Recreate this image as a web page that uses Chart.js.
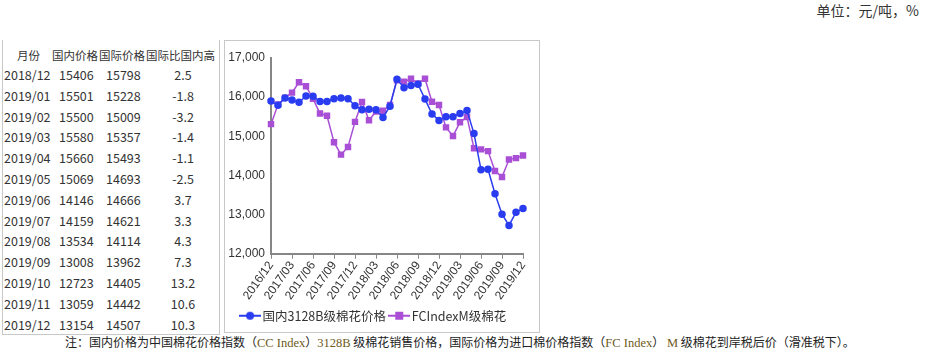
<!DOCTYPE html>
<html>
<head>
<meta charset="utf-8">
<script src="https://cdn.jsdelivr.net/npm/chart.js@4/dist/chart.umd.min.js"></script>
<style>
  body { margin: 0; width: 925px; height: 351px; background: #fff; position: relative; overflow: hidden;
         font-family: "Noto Sans CJK SC", "Open Sans", sans-serif; color: #333; }
  #unit { position: absolute; right: 6px; top: 0px; font-size: 14px; }
  #tbl { position: absolute; left: 2px; top: 40px; width: 216px; height: 294px; border: 1px solid #c8c8c8; border-top: none; }
  .cell { position: absolute; font-size: 12.5px; line-height: 16px; white-space: nowrap; }
  .head { font-size: 11.5px; }
  #box { position: absolute; left: 224px; top: 40px; width: 314px; height: 291px; border: 1px solid #c8c8c8; }
  #note { position: absolute; left: 65px; top: 333px; font-size: 12px; color: #222; white-space: nowrap; }
  #note .en { font-family: "Liberation Serif", serif; color: #6e5a1a; font-size: 12.5px; }
</style>
</head>
<body>
<div id="unit">单位：元/吨，%</div>
<div id="tbl"></div>
<div id="box"><canvas id="c" width="314" height="291"></canvas></div>
<div id="note">注：国内价格为中国棉花价格指数（<span class="en">CC Index</span>）<span class="en">3128B</span> 级棉花销售价格，国际价格为进口棉价格指数（<span class="en">FC Index</span>） <span class="en">M</span> 级棉花到岸税后价（滑准税下）。</div>
<script>
const months = ['2016/12','2017/01','2017/02','2017/03','2017/04','2017/05','2017/06','2017/07','2017/08','2017/09','2017/10','2017/11',
  '2017/12','2018/01','2018/02','2018/03','2018/04','2018/05','2018/06','2018/07','2018/08','2018/09','2018/10','2018/11',
  '2018/12','2019/01','2019/02','2019/03','2019/04','2019/05','2019/06','2019/07','2019/08','2019/09','2019/10','2019/11','2019/12'];
const domestic = [15900, 15790, 15980, 15930, 15870, 16030, 16020, 15890, 15890, 15960, 15980, 15960,
  15780, 15680, 15690, 15680, 15480, 15770, 16460, 16240, 16300, 16330, 15950, 15570,
  15406, 15501, 15500, 15580, 15660, 15069, 14146, 14159, 13534, 13008, 12723, 13059, 13154];
const international = [15310, 15810, 15985, 16115, 16378, 16280, 15960, 15580, 15523, 14850, 14531, 14728,
  15368, 15878, 15412, 15635, 15653, 15800, 16430, 16396, 16470, 16350, 16470, 15880,
  15798, 15228, 15009, 15357, 15493, 14693, 14666, 14621, 14114, 13962, 14405, 14442, 14507];
const premium = ['2.5', '-1.8', '-3.2', '-1.4', '-1.1', '-2.5', '3.7', '3.3', '4.3', '7.3', '13.2', '10.6', '10.3'];
const tableHead = ['月份', '国内价格', '国际价格', '国际比国内高'];
const seriesNames = ['国内3128B级棉花价格', 'FCIndexM级棉花'];

// table of the last 13 months, placed cell by cell
const tbl = document.getElementById('tbl');
function cell(text, left, top, cls, width) {
  const d = document.createElement('div');
  d.className = 'cell' + (cls ? ' ' + cls : '');
  d.textContent = text;
  d.style.left = left + 'px';
  d.style.top = top + 'px';
  if (width) { d.style.textAlign = 'center'; d.style.width = width + 'px'; }
  tbl.appendChild(d);
}
cell(tableHead[0], 14, 7, 'head');
cell(tableHead[1], 49, 7, 'head');
cell(tableHead[2], 96, 7, 'head');
cell(tableHead[3], 143, 7, 'head');
const start = months.length - premium.length;
for (let i = 0; i < premium.length; i++) {
  const y = 27 + i * 20.8;
  cell(months[start + i], 1, y);
  cell(String(domestic[start + i]), 56, y);
  cell(String(international[start + i]), 103, y);
  cell(premium[i], 150, y, '', 60);
}

const blue = '#2a3cf0';
const purple = '#a94fd6';

function legendIcon(color, style) {
  const cv = document.createElement('canvas');
  cv.width = 22; cv.height = 10;
  const g = cv.getContext('2d');
  g.strokeStyle = color; g.lineWidth = 2;
  g.beginPath(); g.moveTo(0, 5); g.lineTo(22, 5); g.stroke();
  g.fillStyle = color;
  if (style === 'circle') { g.beginPath(); g.arc(11, 5, 4, 0, Math.PI * 2); g.fill(); }
  else g.fillRect(7, 1, 8, 8);
  return cv;
}

const font = { family: '"Liberation Sans", Arial, sans-serif', size: 12 };

new Chart(document.getElementById('c'), {
  type: 'line',
  data: {
    labels: months,
    datasets: [{
      label: seriesNames[0],
      data: domestic,
      borderColor: blue,
      backgroundColor: blue,
      borderWidth: 1.5,
      pointStyle: 'circle',
      pointRadius: 3,
      tension: 0
    }, {
      label: seriesNames[1],
      data: international,
      borderColor: purple,
      backgroundColor: purple,
      borderWidth: 1.5,
      pointStyle: 'rect',
      pointRadius: 3.5,
      tension: 0
    }]
  },
  options: {
    responsive: false,
    animation: false,
    layout: { padding: { left: 2, right: 16, top: 17, bottom: 0 } },
    plugins: {
      tooltip: { enabled: false },
      legend: {
        position: 'bottom',
        labels: {
          color: '#333',
          font: { family: '"Noto Sans CJK SC", "Open Sans", sans-serif', size: 12.5 },
          usePointStyle: true,
          boxHeight: 10,
          padding: 7,
          generateLabels: chart => chart.data.datasets.map((ds, i) => ({
            text: ds.label,
            datasetIndex: i,
            pointStyle: legendIcon(ds.borderColor, i === 0 ? 'circle' : 'rect'),
            fontColor: '#333',
            lineWidth: 0
          }))
        }
      }
    },
    scales: {
      x: {
        offset: false,
        grid: { drawOnChartArea: false, color: '#868686', tickLength: 5 },
        border: { color: '#868686', width: 2 },
        ticks: {
          autoSkip: false,
          maxRotation: 55,
          minRotation: 55,
          color: '#333',
          font: font,
          padding: 0,
          callback: function(v, i) { return i % 3 === 0 ? months[i] : null; }
        }
      },
      y: {
        min: 12000,
        max: 17000,
        grid: { display: false, drawTicks: false },
        border: { color: '#868686', width: 2 },
        afterFit: s => { s.width = 44; },
        ticks: {
          stepSize: 1000,
          color: '#333',
          font: font,
          padding: 6,
          callback: v => v.toLocaleString('en-US')
        }
      }
    }
  }
});
</script>
</body>
</html>
